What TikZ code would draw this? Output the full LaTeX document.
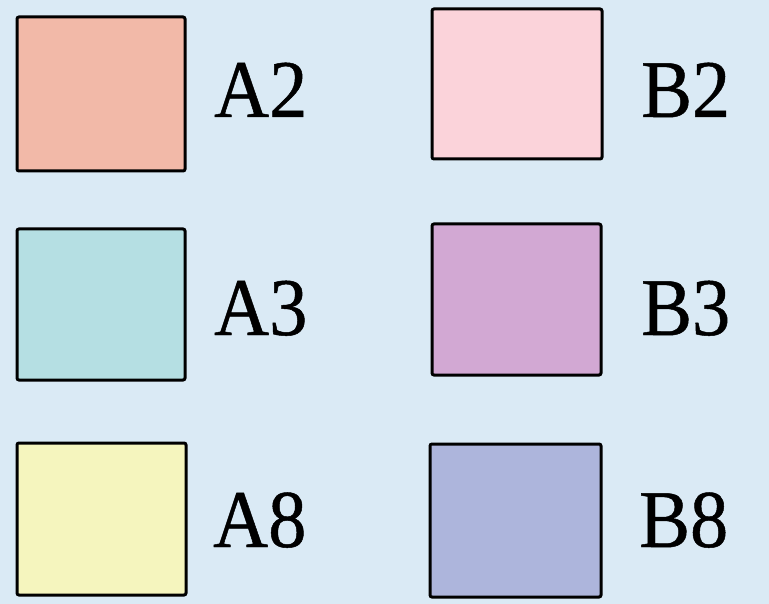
\documentclass[tikz,border=0pt]{standalone}
\usepackage{fontspec}
\setmainfont{Liberation Serif}
\newfontfamily\labfont[FakeBold=0.6,FakeStretch=0.93]{Liberation Serif}
\definecolor{bg}{HTML}{DAEAF5}
\definecolor{cA2}{HTML}{F2B9A8}
\definecolor{cB2}{HTML}{FBD3DA}
\definecolor{cA3}{HTML}{B5DFE3}
\definecolor{cB3}{HTML}{D2A8D3}
\definecolor{cA8}{HTML}{F5F5BE}
\definecolor{cB8}{HTML}{ADB5DC}
\tikzset{
  swatch/.style={draw=black, line width=3pt, rounded corners=2pt},
  lab/.style={anchor=base west, inner sep=0pt, font=\labfont\fontsize{82}{90}\selectfont}
}
\begin{document}
\begin{tikzpicture}[x=1pt,y=-1pt]
\fill[bg] (0,0) rectangle (769,604);
\useasboundingbox (0,0) rectangle (769,604);
\draw[swatch, fill=cA2] (17,17) rectangle (185,171);
\draw[swatch, fill=cB2] (432,9) rectangle (602,159);
\draw[swatch, fill=cA3] (17,229) rectangle (185,380);
\draw[swatch, fill=cB3] (432,224) rectangle (601,375);
\draw[swatch, fill=cA8] (17,443) rectangle (186,595);
\draw[swatch, fill=cB8] (430,444) rectangle (601,597);
\node[lab] (tA2) at (214,117) {A2};
\node[lab] (tB2) at (641,117) {B2};
\node[lab] (tA3) at (214,335) {A3};
\node[lab] (tB3) at (641,335) {B3};
\node[lab] (tA8) at (213,547) {A8};
\node[lab] (tB8) at (639,547) {B8};
\end{tikzpicture}
\end{document}
